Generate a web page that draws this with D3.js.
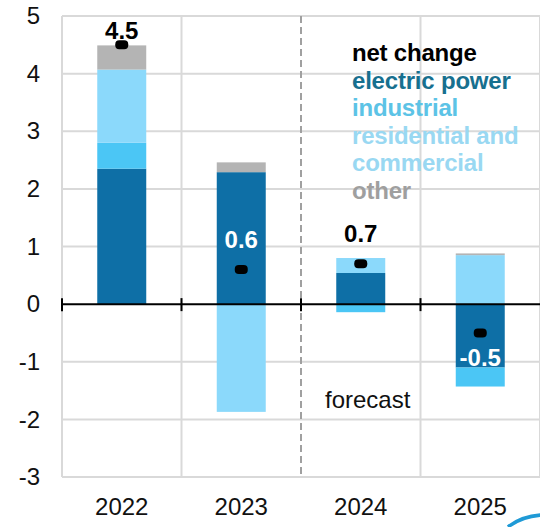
<!DOCTYPE html>
<html>
<head>
<meta charset="utf-8">
<script src="https://cdn.jsdelivr.net/npm/d3@7"></script>
<style>
  html, body { margin: 0; padding: 0; background: #fff; }
  svg { display: block; font-family: "Liberation Sans", Arial, sans-serif; }
</style>
</head>
<body>
<svg id="chart" width="540" height="527"></svg>
<script>
// Annual change by sector (stacked), with net change markers
const years = ["2022", "2023", "2024", "2025"];
const electricPower = [2.35, 2.29, 0.54, -1.10];
const industrial = [0.45, 0.00, -0.14, -0.33];
const residentialCommercial = [1.27, -1.87, 0.26, 0.85];
const other = [0.42, 0.17, 0.00, 0.03];
const netChange = [4.5, 0.6, 0.7, -0.5];
const yTicks = [-3, -2, -1, 0, 1, 2, 3, 4, 5];
const legendLabels = ["net change", "electric power", "industrial", "residential and", "commercial", "other"];
const forecastLabel = "forecast";

const sectorKeys = ["electric", "industrial", "residential", "other"];
const colors = {
  electric: "#0e6fa6",
  industrial: "#4bc6f5",
  residential: "#8bd9fb",
  other: "#b4b4b4"
};

const rows = years.map((yr, i) => ({
  year: yr,
  electric: electricPower[i],
  industrial: industrial[i],
  residential: residentialCommercial[i],
  other: other[i],
  net: netChange[i]
}));

const svg = d3.select("#chart");
const plot = { left: 62, right: 540, top: 16, bottom: 477 };

const x = d3.scaleBand().domain(years).range([plot.left, plot.right]).padding(0);
const y = d3.scaleLinear().domain([-3, 5]).range([plot.bottom, plot.top]);
const barW = x.bandwidth() * 0.41;

// plain hyphen for negative numbers
const hyphen = s => String(s).replace("\u2212", "-");

// horizontal gridlines
svg.append("g")
  .selectAll("line")
  .data(yTicks.filter(t => t !== 0))
  .join("line")
  .attr("x1", plot.left).attr("x2", plot.right)
  .attr("y1", d => y(d)).attr("y2", d => y(d))
  .attr("stroke", "#d9d9d9").attr("stroke-width", 2);

// vertical gridlines at category boundaries
const bounds = years.map(yr => x(yr)).concat([plot.right]);
svg.append("g")
  .selectAll("line")
  .data(bounds)
  .join("line")
  .attr("x1", d => d).attr("x2", d => d)
  .attr("y1", plot.top).attr("y2", plot.bottom)
  .attr("stroke", (d, i) => i === 2 ? "#a0a0a0" : "#d9d9d9")
  .attr("stroke-width", 2)
  .attr("stroke-dasharray", (d, i) => i === 2 ? "7,4" : null);

// stacked bars
const stack = d3.stack().keys(sectorKeys).offset(d3.stackOffsetDiverging);
const series = stack(rows);

svg.append("g")
  .selectAll("g")
  .data(series)
  .join("g")
  .attr("fill", d => colors[d.key])
  .selectAll("rect")
  .data(d => d)
  .join("rect")
  .attr("x", d => x(d.data.year) + (x.bandwidth() - barW) / 2)
  .attr("width", barW)
  .attr("y", d => y(Math.max(d[0], d[1])))
  .attr("height", d => Math.abs(y(d[0]) - y(d[1])));

// zero axis with boundary ticks
const zero = svg.append("g");
zero.append("line")
  .attr("x1", plot.left).attr("x2", plot.right)
  .attr("y1", y(0)).attr("y2", y(0))
  .attr("stroke", "#000").attr("stroke-width", 2);
zero.selectAll("line.tick")
  .data(bounds.slice(0, 4))
  .join("line")
  .attr("class", "tick")
  .attr("x1", d => d).attr("x2", d => d)
  .attr("y1", y(0) - 6).attr("y2", y(0) + 7)
  .attr("stroke", "#000").attr("stroke-width", 2);

// y axis labels
const yAxis = svg.append("g")
  .attr("transform", `translate(${plot.left},0)`)
  .call(d3.axisLeft(y).tickValues(yTicks).tickSize(0).tickPadding(22));
yAxis.select(".domain").remove();
yAxis.selectAll("text")
  .attr("font-size", 24).attr("fill", "#111")
  .attr("font-family", "'Liberation Sans', Arial, sans-serif")
  .text(d => hyphen(d3.format("d")(d)));

// x axis labels
const xAxis = svg.append("g")
  .attr("transform", `translate(0,${plot.bottom})`)
  .call(d3.axisBottom(x).tickSize(0).tickPadding(21));
xAxis.select(".domain").remove();
xAxis.selectAll("text")
  .attr("font-size", 24).attr("fill", "#111")
  .attr("font-family", "'Liberation Sans', Arial, sans-serif");

// net change markers
svg.append("g")
  .selectAll("rect")
  .data(rows)
  .join("rect")
  .attr("x", d => x(d.year) + x.bandwidth() / 2 - 6.5)
  .attr("y", d => y(d.net) - 4.5)
  .attr("width", 13).attr("height", 9)
  .attr("rx", 4).attr("ry", 4)
  .attr("fill", "#000");

// net change value labels
const fmt = d3.format(".1f");
function labelY(d) {
  const my = y(d.net);
  if (d.net >= 0) return Math.max(my - 30, plot.top + 14);
  return my + 24;
}
function insideElectric(d, ly) {
  const v = y.invert(ly);
  const e = d.electric;
  return e >= 0 ? (v >= 0 && v <= e) : (v <= 0 && v >= e);
}
svg.append("g")
  .selectAll("text")
  .data(rows)
  .join("text")
  .attr("x", d => x(d.year) + x.bandwidth() / 2)
  .attr("y", d => labelY(d))
  .attr("dy", "0.36em")
  .attr("text-anchor", "middle")
  .attr("font-size", 24).attr("font-weight", "bold")
  .attr("fill", d => insideElectric(d, labelY(d)) ? "#fff" : "#000")
  .text(d => hyphen(fmt(d.net)));

// legend
const legendColors = ["#000", "#17708f", "#5cc3e6", "#99d8f2", "#99d8f2", "#9f9f9f"];
svg.append("g")
  .selectAll("text")
  .data(legendLabels)
  .join("text")
  .attr("x", 352)
  .attr("y", (d, i) => 61 + i * 27.5)
  .attr("font-size", 24).attr("font-weight", "bold")
  .attr("letter-spacing", "-0.2")
  .attr("fill", (d, i) => legendColors[i])
  .text(d => d);

// forecast note
svg.append("text")
  .attr("x", 325).attr("y", 408)
  .attr("font-size", 24)
  .attr("fill", "#111")
  .text(forecastLabel);

// corner logo fragment
svg.append("path")
  .attr("d", "M508,527 Q522,516 542,515")
  .attr("fill", "none")
  .attr("stroke", "#1f9ad6")
  .attr("stroke-width", 3.5);
</script>
</body>
</html>
